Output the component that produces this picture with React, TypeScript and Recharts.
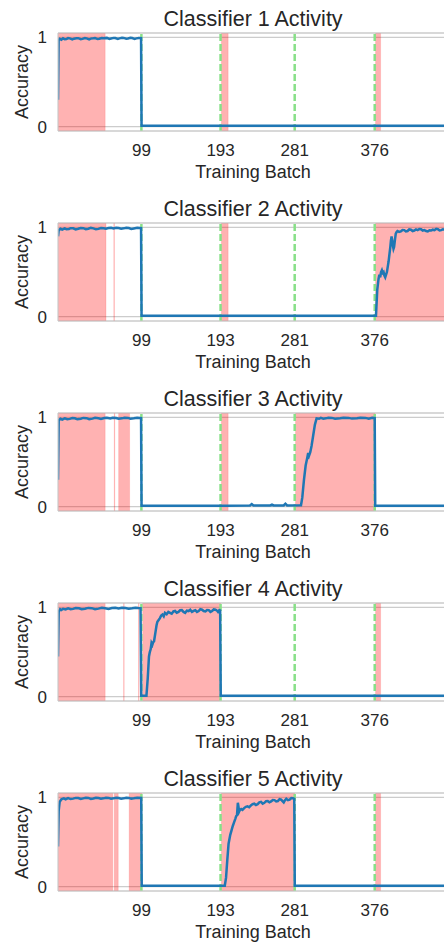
import React from 'react';
import { LineChart, Line, XAxis, YAxis, CartesianGrid, ReferenceArea, ReferenceLine } from 'recharts';

const xTicks = [99, 193, 281, 376];
const yTicks = [0, 1];
const taskBoundaries = [99, 193, 281, 376];
const xMax = 463;
const titles = ['Classifier 1 Activity', 'Classifier 2 Activity', 'Classifier 3 Activity', 'Classifier 4 Activity', 'Classifier 5 Activity'];

const c1Acc: [number, number][] = [
  [0, 0.3], [0.7, 0.97], [2, 0.985], [4, 0.975], [6, 0.99], [8, 0.98], [10, 0.982], [12, 0.993], [14, 0.99], [17, 0.978], [19, 0.986],
  [22, 0.99], [24, 0.992], [27, 0.98], [29, 0.984], [32, 0.993], [34, 0.99], [37, 0.979], [39, 0.987], [42, 0.99],
  [44, 0.993], [47, 0.982], [49, 0.986], [52, 0.994], [54, 0.99], [58, 0.995], [61, 0.983], [63, 0.988], [66, 0.995],
  [68, 0.993], [71, 0.984], [73, 0.99], [76, 0.996], [78, 0.995], [81, 0.985], [83, 0.989], [86, 0.996], [88, 0.993],
  [91, 0.984], [93, 0.99], [96, 0.995], [98.6, 0.993], [99.2, 0.01], [140, 0.01], [200, 0.01],
  [260, 0.01], [320, 0.01], [380, 0.01], [463, 0.01],
];
const c2Acc: [number, number][] = [
  [0, 0.9], [0.8, 0.97], [3, 0.985], [5, 0.975], [8, 0.99], [10, 0.98], [13, 0.983], [15, 0.992], [18, 0.99], [21, 0.978],
  [24, 0.985], [27, 0.994], [30, 0.992], [33, 0.98], [36, 0.986], [39, 0.995], [42, 0.99], [45, 0.979], [48, 0.984],
  [51, 0.994], [54, 0.991], [57, 0.985], [60, 0.993], [63, 0.997], [66, 0.988], [69, 0.996], [72, 0.994], [75, 0.985],
  [78, 0.99], [81, 0.997], [84, 0.993], [87, 0.984], [90, 0.989], [94, 0.996], [98.6, 0.993], [99.2, 0.01], [150, 0.01],
  [250, 0.01], [350, 0.01], [377.5, 0.01], [379, 0.3], [380.5, 0.42], [381.5, 0.47], [382.5, 0.44], [383.5, 0.5],
  [384.5, 0.52], [385.5, 0.49], [386.5, 0.5], [387.5, 0.46], [388.5, 0.44], [389.5, 0.47], [390.5, 0.5], [391.5, 0.56],
  [392.5, 0.62], [393.5, 0.7], [394.5, 0.78], [395.2, 0.85], [396, 0.9], [397, 0.84], [397.5, 0.8], [398.3, 0.76],
  [399, 0.78], [400, 0.86], [401, 0.93], [402, 0.95], [403, 0.96], [405, 0.95], [407, 0.955], [409, 0.972],
  [411, 0.97], [413, 0.955], [415, 0.96], [417, 0.978], [419, 0.975], [421, 0.96], [423, 0.965], [425, 0.978],
  [427, 0.97], [429, 0.982], [431, 0.98], [433, 0.965], [435, 0.97], [437, 0.96], [439, 0.955], [441, 0.968],
  [443, 0.965], [445, 0.975], [447, 0.97], [449, 0.985], [451, 0.98], [453, 0.966], [455, 0.97], [457, 0.98],
  [459, 0.975], [461, 0.965], [463, 0.97],
];
const c3Acc: [number, number][] = [
  [0, 0.3], [0.8, 0.97], [3, 0.985], [5, 0.976], [8, 0.99], [11, 0.98], [14, 0.984], [17, 0.994], [20, 0.991], [23, 0.979],
  [27, 0.986], [30, 0.995], [34, 0.992], [37, 0.981], [41, 0.987], [44, 0.996], [48, 0.99], [51, 0.983], [55, 0.994],
  [58, 0.997], [62, 0.988], [65, 0.996], [69, 0.993], [72, 0.985], [76, 0.99], [79, 0.997], [83, 0.995], [86, 0.986],
  [90, 0.99], [94, 0.997], [98.6, 0.993], [99.2, 0.01], [150, 0.01], [200, 0.01], [228, 0.012], [230, 0.028],
  [232, 0.012], [252, 0.013], [254, 0.022], [256, 0.012], [268, 0.012], [270, 0.032], [272, 0.013], [288.5, 0.015],
  [290, 0.1], [292, 0.3], [294, 0.46], [296, 0.55], [297, 0.6], [298, 0.57], [299.5, 0.61], [301, 0.68], [303, 0.8],
  [305, 0.92], [307, 0.99], [310, 0.985], [312, 0.995], [315, 0.986], [318, 0.99], [321, 0.997], [325, 0.995],
  [329, 0.986], [335, 0.99], [339, 0.997], [345, 0.995], [349, 0.987], [355, 0.99], [359, 0.997], [365, 0.995],
  [369, 0.986], [373, 0.996], [376, 0.993], [376.6, 0.01], [420, 0.01], [463, 0.01],
];
const c4Acc: [number, number][] = [
  [0, 0.45], [0.8, 0.95], [2.5, 0.98], [4, 0.972], [6, 0.985], [9, 0.978], [12, 0.99], [15, 0.98], [18, 0.984],
  [21, 0.993], [25, 0.991], [28, 0.98], [32, 0.986], [36, 0.995], [40, 0.992], [44, 0.981], [48, 0.987], [52, 0.996],
  [56, 0.99], [60, 0.984], [64, 0.994], [68, 0.997], [72, 0.989], [76, 0.996], [80, 0.993], [84, 0.985], [88, 0.99],
  [92, 0.997], [95, 0.993], [98, 0.992], [98.8, 0.01], [105, 0.01], [106.5, 0.2], [108, 0.45], [109, 0.5],
  [110, 0.53], [111, 0.6], [112, 0.58], [113, 0.61], [114, 0.62], [115, 0.68], [116, 0.74], [117, 0.8], [118, 0.84],
  [119.5, 0.86], [121, 0.88], [122.5, 0.91], [124, 0.92], [125.5, 0.9], [127, 0.94], [129, 0.925], [131, 0.95],
  [133, 0.94], [135, 0.93], [137, 0.955], [139, 0.96], [141, 0.94], [143, 0.95], [145, 0.968], [147, 0.97],
  [149, 0.95], [151, 0.94], [153, 0.965], [155, 0.96], [157, 0.975], [159, 0.95], [161, 0.962], [163, 0.97],
  [165, 0.95], [167, 0.96], [169, 0.98], [171, 0.975], [173, 0.96], [175, 0.955], [177, 0.972], [179, 0.97],
  [181, 0.95], [183, 0.96], [185, 0.978], [187, 0.975], [189, 0.962], [190, 0.95], [191.5, 0.97], [192.5, 0.965],
  [193.2, 0.01], [250, 0.01], [350, 0.01], [463, 0.01],
];
const c5Acc: [number, number][] = [
  [0, 0.45], [0.8, 0.85], [2, 0.95], [4, 0.98], [7, 0.99], [9, 0.98], [12, 0.993], [15, 0.982], [18, 0.987], [21, 0.995],
  [24, 0.993], [27, 0.983], [30, 0.99], [33, 0.997], [36, 0.995], [39, 0.984], [42, 0.988], [45, 0.996], [48, 0.993],
  [51, 0.985], [54, 0.99], [57, 0.997], [60, 0.995], [63, 0.986], [66, 0.99], [69, 0.997], [72, 0.994], [75, 0.986],
  [78, 0.99], [81, 0.997], [84, 0.995], [87, 0.987], [90, 0.99], [94, 0.997], [98.8, 0.994], [99.4, 0.01],
  [150, 0.01], [198, 0.01], [199.5, 0.1], [201, 0.3], [202.5, 0.48], [203.5, 0.53], [204.5, 0.58], [206, 0.63],
  [207.5, 0.68], [209, 0.72], [210.5, 0.76], [211.5, 0.79], [212.5, 0.8], [213.5, 0.94], [214.2, 0.9], [215, 0.84],
  [216, 0.86], [217.5, 0.87], [219, 0.86], [221, 0.88], [223, 0.895], [225, 0.9], [227, 0.89], [229, 0.91],
  [231, 0.925], [233, 0.93], [235, 0.915], [237, 0.925], [239, 0.945], [241, 0.95], [243, 0.93], [245, 0.94],
  [247, 0.958], [249, 0.96], [251, 0.945], [253, 0.955], [255, 0.972], [257, 0.97], [259, 0.955], [261, 0.96],
  [263, 0.98], [265, 0.975], [266.5, 0.96], [268, 0.945], [269.5, 0.97], [271, 0.985], [273, 0.97], [275, 0.975],
  [277, 0.992], [279, 0.99], [280.5, 0.985], [281.1, 0.01], [350, 0.01], [463, 0.01],
];

const c1Spans: [number, number][] = [[0, 56], [194, 202], [377, 383]];
const c2Spans: [number, number][] = [[0, 57], [66.3, 66.9], [194, 202], [377, 463]];
const c3Spans: [number, number][] = [[0, 56], [66.8, 67.4], [72, 85], [194, 202], [282, 376.5]];
const c4Spans: [number, number][] = [[0, 56], [78, 78.5], [95.7, 96.2], [100.5, 193], [377, 383]];
const c5Spans: [number, number][] = [[0, 65], [66.8, 71.5], [84.5, 99.5], [194, 281], [377, 383]];

const accSeries = [c1Acc, c2Acc, c3Acc, c4Acc, c5Acc];
const spanSeries = [c1Spans, c2Spans, c3Spans, c4Spans, c5Spans];

const TEXT = '#262626';
const GRID = '#cccccc';

function Panel({ title, acc, spans, top }: { title: string; acc: [number, number][]; spans: [number, number][]; top: number }) {
  const data = acc.map(([batch, a]) => ({ batch, acc: a }));
  return (
    <div style={{ position: 'absolute', top, left: 0, width: 500, height: 190 }}>
      <div
        style={{
          position: 'absolute', left: 58, width: 390, top: 8.5, fontSize: 21.5, lineHeight: '21.5px',
          textAlign: 'center', color: TEXT, whiteSpace: 'nowrap',
        }}
      >
        {title}
      </div>
      <LineChart width={500} height={190} data={data} margin={{ top: 33, right: 52, bottom: 9, left: 0 }}>
        <CartesianGrid vertical={false} stroke={GRID} strokeWidth={1.2} />
        {spans.map(([a, b], i) => (
          <ReferenceArea key={'s' + i} x1={a} x2={b} fill="#ff0000" fillOpacity={0.3} stroke="#ff0000" strokeOpacity={0.12} ifOverflow="hidden" />
        ))}
        {taskBoundaries.map((t) => (
          <ReferenceLine key={'t' + t} x={t} stroke="#88e088" strokeWidth={2.5} strokeDasharray="7 3" />
        ))}
        <ReferenceLine y={1.05} stroke={GRID} strokeWidth={1.2} ifOverflow="visible" />
        <XAxis
          dataKey="batch" type="number" domain={[0, xMax]} ticks={xTicks} allowDataOverflow interval={0}
          tickLine={false} axisLine={{ stroke: GRID, strokeWidth: 1.2 }} tick={{ fill: TEXT, fontSize: 17 }}
          tickSize={6} tickMargin={7} height={50}
          label={{ value: 'Training Batch', position: 'insideBottom', offset: 3, fontSize: 18, fill: TEXT }}
        />
        <YAxis
          type="number" domain={[-0.05, 1.05]} ticks={yTicks} allowDataOverflow width={58}
          tickLine={false} axisLine={{ stroke: GRID, strokeWidth: 1.2 }} tick={{ fill: TEXT, fontSize: 17 }}
          tickSize={6} tickMargin={5}
          label={{
            content: () => (
              <text x={28} y={82} transform="rotate(-90 28 82)" textAnchor="middle" fontSize={18} fill={TEXT}>
                Accuracy
              </text>
            ),
          }}
        />
        <Line dataKey="acc" type="linear" stroke="#1f77b4" strokeWidth={2.5} dot={false} isAnimationActive={false} />
      </LineChart>
    </div>
  );
}

export default function App() {
  return (
    <div
      style={{
        position: 'fixed', left: 0, top: 0, width: 444, height: 944, overflow: 'hidden', background: '#ffffff',
        fontFamily: '"Liberation Sans", Arial, sans-serif',
      }}
    >
      {titles.map((t, i) => (
        <Panel key={t} title={t} acc={accSeries[i]} spans={spanSeries[i]} top={i * 190} />
      ))}
    </div>
  );
}
